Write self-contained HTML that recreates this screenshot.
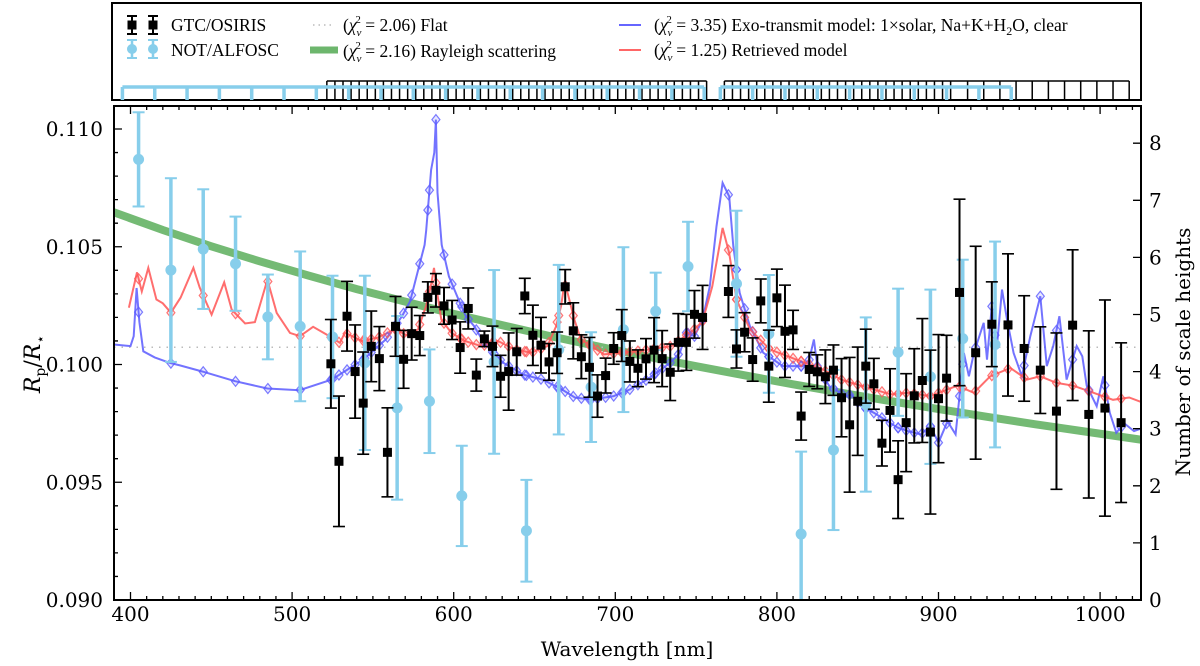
<!DOCTYPE html>
<html><head><meta charset="utf-8"><style>
body{margin:0;background:#fff;}
svg{display:block;}
text{font-family:"DejaVu Serif","Liberation Serif",serif;}
.lg{font-family:"Liberation Serif",serif;font-size:17.5px;}
</style></head><body>
<svg id="chart" width="1200" height="666" viewBox="0 0 1200 666" xmlns="http://www.w3.org/2000/svg">
<defs><clipPath id="pc"><rect x="114" y="106" width="1027" height="494"/></clipPath></defs>
<rect x="112" y="3" width="1029" height="97" fill="#fff" stroke="#000" stroke-width="2"/>
<g id="bins"></g>
<g>
 <g>
  <line x1="132" y1="16" x2="132" y2="34" stroke="#000" stroke-width="2"/><line x1="127" y1="16" x2="137" y2="16" stroke="#000" stroke-width="2"/><line x1="127" y1="34" x2="137" y2="34" stroke="#000" stroke-width="2"/><rect x="127.5" y="20.5" width="9" height="9" fill="#000"/>
  <line x1="153" y1="16" x2="153" y2="34" stroke="#000" stroke-width="2"/><line x1="148" y1="16" x2="158" y2="16" stroke="#000" stroke-width="2"/><line x1="148" y1="34" x2="158" y2="34" stroke="#000" stroke-width="2"/><rect x="148.5" y="20.5" width="9" height="9" fill="#000"/>
  <text class="lg" x="171" y="31">GTC/OSIRIS</text></g>
 <g>
  <line x1="132" y1="40" x2="132" y2="58" stroke="#87ceeb" stroke-width="2.5"/><line x1="127" y1="40" x2="137" y2="40" stroke="#87ceeb" stroke-width="2"/><line x1="127" y1="58" x2="137" y2="58" stroke="#87ceeb" stroke-width="2"/><circle cx="132" cy="49" r="5" fill="#87ceeb"/>
  <line x1="153" y1="40" x2="153" y2="58" stroke="#87ceeb" stroke-width="2.5"/><line x1="148" y1="40" x2="158" y2="40" stroke="#87ceeb" stroke-width="2"/><line x1="148" y1="58" x2="158" y2="58" stroke="#87ceeb" stroke-width="2"/><circle cx="153" cy="49" r="5" fill="#87ceeb"/>
  <text class="lg" x="171" y="56">NOT/ALFOSC</text></g>
 <g>
  <line x1="313" y1="25" x2="334" y2="25" stroke="#bbb" stroke-width="1.5" stroke-dasharray="1.5,4"/>
  <text class="lg" x="343" y="31">(<tspan font-style="italic">χ</tspan><tspan font-size="11" dy="5" font-style="italic">ν</tspan><tspan font-size="11" dx="-6" dy="-13">2</tspan><tspan dy="8"> = 2.06) Flat</tspan></text></g>
 <g>
  <line x1="310" y1="50" x2="338" y2="50" stroke="#6db66d" stroke-width="7"/>
  <text class="lg" x="343" y="57">(<tspan font-style="italic">χ</tspan><tspan font-size="11" dy="5" font-style="italic">ν</tspan><tspan font-size="11" dx="-6" dy="-13">2</tspan><tspan dy="8"> = 2.16) Rayleigh scattering</tspan></text></g>
 <g>
  <line x1="619" y1="25" x2="641" y2="25" stroke="#6666ff" stroke-width="2"/>
  <text class="lg" x="654" y="31">(<tspan font-style="italic">χ</tspan><tspan font-size="11" dy="5" font-style="italic">ν</tspan><tspan font-size="11" dx="-6" dy="-13">2</tspan><tspan dy="8"> = 3.35) Exo-transmit model: 1×solar, Na+K+H</tspan><tspan font-size="12" dy="4">2</tspan><tspan dy="-4">O, clear</tspan></text></g>
 <g>
  <line x1="619" y1="50" x2="641" y2="50" stroke="#ff6666" stroke-width="2"/>
  <text class="lg" x="654" y="56">(<tspan font-style="italic">χ</tspan><tspan font-size="11" dy="5" font-style="italic">ν</tspan><tspan font-size="11" dx="-6" dy="-13">2</tspan><tspan dy="8"> = 1.25) Retrieved model</tspan></text></g>
</g>
<g id="plot" clip-path="url(#pc)"></g>
<rect x="114" y="106" width="1027" height="494" fill="none" stroke="#000" stroke-width="2"/>
<g id="axes"></g>
<text x="627" y="656" font-size="20" text-anchor="middle">Wavelength [nm]</text>
<text transform="translate(40,364) rotate(-90)" font-size="22" text-anchor="middle" font-family="Liberation Serif, serif"><tspan font-style="italic">R</tspan><tspan font-size="14" dy="5">p</tspan><tspan dy="-5">/</tspan><tspan font-style="italic">R</tspan><tspan font-size="14" dy="5">⋆</tspan></text>
<text transform="translate(1190,352) rotate(-90)" font-size="20" text-anchor="middle">Number of scale heights</text>
</svg>
<script>
const gtcWl=[524,529,534,539,544,549,554,559,564,569,574,579,584,589,594,599,604,609,614,619,624,629,634,639,644,649,654,659,664,669,674,679,684,689,694,699,704,709,714,719,724,729,734,739,744,749,754,
770,775,780,785,790,795,800,805,810,815,820,825,830,835,840,845,850,855,860,865,870,875,880,885,890,895,900,905,
913,923,933,943,953,963,973,983,993,1003,1013];
const gtcVal=[0.10003,0.09589,0.10205,0.09970,0.09836,0.10077,0.10025,0.09627,0.10162,0.10022,
0.10131,0.10123,0.10285,0.10315,0.10249,0.10189,0.10072,0.10238,0.09955,0.10109,
0.10077,0.09950,0.09970,0.10054,0.10291,0.10124,0.10082,0.10011,0.10050,0.10330,
0.10143,0.10033,0.09988,0.09866,0.09953,0.10068,0.10123,0.10013,0.09984,0.10024,
0.10061,0.10025,0.09967,0.10094,0.10094,0.10213,0.10200,
0.10310,0.10066,0.10137,0.10021,0.10270,0.09993,0.10283,0.10141,0.10147,0.09781,
0.09979,0.09969,0.09948,0.09976,0.09859,0.09744,0.09844,0.09993,0.09918,0.09666,
0.09805,0.09511,0.09753,0.09867,0.09932,0.09713,0.09855,0.09942,
0.10306,0.10050,0.10171,0.10168,0.10068,0.09976,0.09802,0.10167,0.09788,0.09815,0.09753];
const gtcErr=[0.00188,0.00277,0.00148,0.00198,0.00217,0.00150,0.00136,0.00189,0.00127,0.00123,
0.00112,0.00085,0.00066,0.00071,0.00078,0.00083,0.00109,0.00087,0.00068,0.00033,
0.00086,0.00089,0.00164,0.00099,0.00075,0.00128,0.00118,0.00078,0.00088,0.00073,
0.00119,0.00093,0.00127,0.00090,0.00074,0.00067,0.00110,0.00087,0.00078,0.00086,
0.00138,0.00119,0.00120,0.00122,0.00119,0.00101,0.00136,
0.00110,0.00081,0.00083,0.00092,0.00093,0.00153,0.00122,0.00196,0.00083,0.00102,
0.00072,0.00072,0.00114,0.00107,0.00166,0.00286,0.00230,0.00157,0.00108,0.00097,
0.00177,0.00165,0.00208,0.00200,0.00263,0.00348,0.00272,0.00182,
0.00396,0.00452,0.00180,0.00302,0.00224,0.00184,0.00332,0.00320,0.00355,0.00459,0.00339];
const notWl=[405,425,445,465,485,505,525,545,565,585,605,625,645,665,685,705,725,745,775,795,815,835,855,875,895,915,935];
const notVal=[0.10871,0.10401,0.10490,0.10428,0.10202,0.10162,0.10117,0.10007,0.09816,0.09844,0.09442,0.10011,0.09294,0.10063,0.09904,0.10148,0.10226,0.10416,0.10343,0.10130,0.09280,0.09637,0.09830,0.10052,0.09948,0.10110,0.10085];
const notErr=[0.00200,0.00390,0.00254,0.00200,0.00180,0.00318,0.00260,0.00370,0.00390,0.00220,0.00213,0.00390,0.00216,0.00360,0.00233,0.00350,0.00164,0.00190,0.00310,0.00250,0.00350,0.00340,0.00370,0.00270,0.00370,0.00335,0.00437];
const flatVal=0.10073;
const rayWl=[389,420,450,480,510,540,570,600,630,660,690,720,750,780,810,840,870,900,930,960,990,1026];
const rayVal=[0.10648,0.10571,0.10502,0.10438,0.10378,0.10320,0.10267,0.10215,0.10167,0.10120,0.10076,0.10033,0.09993,0.09954,0.09916,0.09880,0.09845,0.09811,0.09778,0.09746,0.09716,0.09680];
const exoWl=[389.8,400,402,403.8,405.5,407.9,415,424.4,430.6,444.7,464.7,484.7,504.5,524.5,529.6,544,558,568,573,577,582,583,586,588,589,590,592.6,597,603,607.5,612.6,617.6,622.5,630.8,643,655,667,675,685,699,709,719.6,733.9,740,744,749,754,758.5,762.6,766.4,770.5,773,777,783.3,791.5,803.7,816,820,822.9,825,832.5,842.7,846,852,860,866.5,874.7,881,889,895,900,905.6,910.6,915.7,918.8,921.9,928,930,933,936,939.3,942.4,946.5,951.6,956.8,963,967,971,974.8,979.3,985.5,989,991.7,997.9,1002,1006,1010,1015,1021,1026];
const exoVal=[0.10085,0.10078,0.10120,0.10325,0.10180,0.10056,0.10030,0.10007,0.09996,0.09970,0.09929,0.09898,0.09891,0.09936,0.09958,0.10021,0.10106,0.10205,0.10268,0.10374,0.10508,0.10570,0.10826,0.10900,0.11040,0.10730,0.10508,0.10374,0.10276,0.10205,0.10163,0.10106,0.10063,0.10007,0.09957,0.09936,0.09894,0.09860,0.09851,0.09866,0.09894,0.09936,0.10007,0.10050,0.10135,0.10120,0.10191,0.10332,0.10587,0.10771,0.10714,0.10502,0.10304,0.10163,0.10050,0.09993,0.09993,0.10020,0.10106,0.09993,0.09908,0.09866,0.09873,0.09823,0.09795,0.09767,0.09732,0.09717,0.09703,0.09738,0.09668,0.09759,0.09703,0.10049,0.09950,0.10049,0.10177,0.10021,0.10247,0.10064,0.10318,0.10191,0.10049,0.09950,0.10120,0.10290,0.09993,0.10078,0.10205,0.09936,0.10078,0.10035,0.09910,0.09823,0.09950,0.09795,0.09710,0.09750,0.09717,0.09730];
const retWl=[399,404,407,411,416,420,425,431,438.9,442.8,450.2,458,462.6,470.9,477,484.7,490.5,498.7,504.9,513,521.4,529.6,532.7,543,553,563.6,571.8,578,583,586.2,587.8,589.8,592.3,598.5,606.8,617,627.3,637.7,648,658,663.4,666.5,668.5,670.5,674.6,678.7,693,714,734.8,749,754,760,766.4,770.5,775,783.3,795.6,812,828.3,839.7,852,870.6,881,895,911.6,921.9,932,944.5,954.8,963,973,983.4,996,1008,1018,1026];
const retVal=[0.10241,0.10391,0.10310,0.10410,0.10276,0.10260,0.10220,0.10284,0.10410,0.10327,0.10212,0.10349,0.10233,0.10174,0.10180,0.10360,0.10219,0.10134,0.10120,0.10160,0.10127,0.10092,0.10135,0.10100,0.10114,0.10150,0.10121,0.10150,0.10250,0.10346,0.10410,0.10304,0.10191,0.10135,0.10100,0.10078,0.10100,0.10064,0.10050,0.10078,0.10163,0.10250,0.10346,0.10304,0.10191,0.10107,0.10043,0.10057,0.10078,0.10150,0.10184,0.10332,0.10580,0.10473,0.10276,0.10150,0.10064,0.10021,0.09979,0.09936,0.09910,0.09873,0.09880,0.09866,0.09910,0.09880,0.09950,0.09985,0.09936,0.09950,0.09922,0.09910,0.09880,0.09850,0.09860,0.09839];
const xTicks=[400,500,600,700,800,900,1000];
const yTicks=[0.090,0.095,0.100,0.105,0.110];
const yTickLabels=["0.090","0.095","0.100","0.105","0.110"];
const rTicks=[0,1,2,3,4,5,6,7,8];

const NS="http://www.w3.org/2000/svg";
function X(w){return 130.5+(w-400)*1.616;}
function Y(v){return 600-(v-0.09)*23550;}
function R(n){return 600-n*57.1;}
function mk(tag,attrs,parent){const e=document.createElementNS(NS,tag);for(const k in attrs)e.setAttribute(k,attrs[k]);parent.appendChild(e);return e;}
function interp(wl,val,w){if(w<wl[0]||w>wl[wl.length-1])return null;for(let i=1;i<wl.length;i++){if(w<=wl[i]){const t=(w-wl[i-1])/(wl[i]-wl[i-1]);return val[i-1]+t*(val[i]-val[i-1]);}}return null;}
const plot=document.getElementById('plot'),axes=document.getElementById('axes'),bins=document.getElementById('bins');

// bins panel
function binRow(centers,half,color,yLine,sw,name){
  const g=mk('g',{},bins);
  
  
  let segStart=null,prev=null,d='';
  centers.forEach((c,i)=>{const l=c-half,r=c+half;
    if(prev===null||Math.abs(l-prev)>0.6){ if(prev!==null)d+=`M${X(segStart)},${yLine}H${X(prev)}`;segStart=l;d+=`M${X(l)},100V${yLine}`;}
    d+=`M${X(r)},100V${yLine}`;prev=r;});
  d+=`M${X(segStart)},${yLine}H${X(prev)}`;
  const p=mk('path',{d:d,stroke:color,'stroke-width':sw,fill:'none'},g);
}
const gtcHalf=gtcWl.map(w=>w>=910?5:2.5);
(function(){const g=mk('g',{},bins);
 
 
 let d='';let segStart=null,prev=null;
 gtcWl.forEach((c,i)=>{const h=gtcHalf[i];let l=c-h,r=c+h;if(prev!==null&&Math.abs(l-prev)<3)l=prev;
  if(prev===null||Math.abs(l-prev)>3){if(prev!==null)d+=`M${X(segStart)},81H${X(prev)}`;segStart=l;d+=`M${X(l)},100V81`;}
  d+=`M${X(r)},100V81`;prev=r;});
 d+=`M${X(segStart)},81H${X(prev)}`;
 mk('path',{d:d,stroke:'#000','stroke-width':1.5,fill:'none'},g);})();
binRow(notWl,10,'#87ceeb',87,3.5,'not-bins');

// rayleigh
let d='';rayWl.forEach((w,i)=>{d+=(i?'L':'M')+X(w)+','+Y(rayVal[i]);});
let e=mk('path',{d:d,stroke:'#6db66d','stroke-width':8,fill:'none','stroke-opacity':0.95},plot);


// flat
e=mk('line',{x1:114,x2:1141,y1:Y(flatVal),y2:Y(flatVal),stroke:'#bbb','stroke-width':1.5,'stroke-dasharray':'1.5,6'},plot);


// exo model
d='';exoWl.forEach((w,i)=>{d+=(i?'L':'M')+X(w).toFixed(1)+','+Y(exoVal[i]).toFixed(1);});
e=mk('path',{d:d,stroke:'#5b5bff','stroke-width':2,fill:'none','stroke-opacity':0.85},plot);


// retrieved
d='';retWl.forEach((w,i)=>{d+=(i?'L':'M')+X(w).toFixed(1)+','+Y(retVal[i]).toFixed(1);});
e=mk('path',{d:d,stroke:'#ff5555','stroke-width':2,fill:'none','stroke-opacity':0.85},plot);


// binned diamonds
const allBins=notWl.concat(gtcWl);
allBins.forEach(w=>{
  [[exoWl,exoVal,'#5b5bff','exo-binned-diamond'],[retWl,retVal,'#ff5555','retrieved-binned-diamond']].forEach(([a,b,c,n])=>{
    const v=interp(a,b,w);if(v===null)return;const x=X(w),y=Y(v);
    const dm=mk('path',{d:`M${x},${y-5}L${x+4},${y}L${x},${y+5}L${x-4},${y}Z`,fill:c,'fill-opacity':0.15,stroke:c,'stroke-width':1.2,'stroke-opacity':0.8},plot);
    
    
  });
});
// NOT points
notWl.forEach((w,i)=>{const x=X(w),y=Y(notVal[i]),t=Y(notVal[i]+notErr[i]),b=Y(notVal[i]-notErr[i]);
  const g=mk('g',{},plot);
  
  
  mk('line',{x1:x,x2:x,y1:t,y2:b,stroke:'#87ceeb','stroke-width':3.5},g);
  mk('line',{x1:x-6,x2:x+6,y1:t,y2:t,stroke:'#87ceeb','stroke-width':2},g);
  mk('line',{x1:x-6,x2:x+6,y1:b,y2:b,stroke:'#87ceeb','stroke-width':2},g);
  mk('circle',{cx:x,cy:y,r:5.5,fill:'#87ceeb'},g);});
// GTC points
gtcWl.forEach((w,i)=>{const x=X(w),y=Y(gtcVal[i]),t=Y(gtcVal[i]+gtcErr[i]),b=Y(gtcVal[i]-gtcErr[i]);
  const g=mk('g',{},plot);
  
  
  mk('line',{x1:x,x2:x,y1:t,y2:b,stroke:'#000','stroke-width':2},g);
  mk('line',{x1:x-6,x2:x+6,y1:t,y2:t,stroke:'#000','stroke-width':1.6},g);
  mk('line',{x1:x-6,x2:x+6,y1:b,y2:b,stroke:'#000','stroke-width':1.6},g);
  mk('rect',{x:x-4.5,y:y-4.5,width:9,height:9,fill:'#000'},g);});
// axes ticks
let td='';
for(let w=390;w<=1020;w+=10){const x=X(w);const L=(w%100===0)?8:4;td+=`M${x},600v-${L}M${x},106v${L}`;}
for(let k=90;k<=110;k++){const v=k/1000;const y=Y(v);const L=(k%5===0)?8:4;td+=`M114,${y}h${L}`;}
rTicks.forEach(n=>{td+=`M1141,${R(n)}h-8`;});
e=mk('path',{d:td,stroke:'#000','stroke-width':1.3,fill:'none'},axes);


xTicks.forEach(w=>{const t=mk('text',{x:X(w),y:621,'font-size':20,'text-anchor':'middle'},axes);t.textContent=w;
  
  });
yTicks.forEach((v,i)=>{const t=mk('text',{x:103,y:Y(v)+7,'font-size':20,'text-anchor':'end'},axes);t.textContent=yTickLabels[i];
  
  });
rTicks.forEach(n=>{const t=mk('text',{x:1149,y:R(n)+7,'font-size':20},axes);t.textContent=n;
  
  });
</script>
</body></html>
